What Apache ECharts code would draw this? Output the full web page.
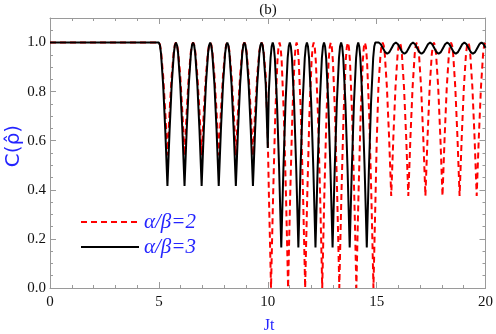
<!DOCTYPE html>
<html><head><meta charset="utf-8">
<script src="https://cdn.jsdelivr.net/npm/echarts@6/dist/echarts.min.js"></script>
<style>html,body{margin:0;padding:0;background:#fff}#c{width:496px;height:334px}</style>
</head><body><div id="c"></div>
<script>
// x ticks / y ticks
const xTicks = [0, 5, 10, 15, 20];
const yTicks = [0.0, 0.2, 0.4, 0.6, 0.8, 1.0];
const seriesNames = ['α/β=2', 'α/β=3'];

// α/β = 2 (red dashed), [Jt, C]
const ratio2_0to10 = [[0,1],[5,1],
[5.049,.991],[5.098,.965],[5.196,.865],[5.295,.716],[5.393,.54],[5.491,.716],[5.589,.865],[5.687,.965],[5.736,.991],
[5.785,1],[5.834,.991],[5.883,.965],[5.981,.865],[6.080,.716],[6.178,.54],[6.276,.716],[6.374,.865],[6.472,.965],[6.521,.991],
[6.571,1],[6.620,.991],[6.669,.965],[6.767,.865],[6.866,.716],[6.964,.54],[7.062,.716],[7.160,.865],[7.258,.965],[7.307,.991],
[7.356,1],[7.405,.991],[7.454,.965],[7.552,.865],[7.651,.716],[7.749,.54],[7.847,.716],[7.945,.865],[8.043,.965],[8.092,.991],
[8.142,1],[8.191,.991],[8.240,.965],[8.338,.865],[8.437,.716],[8.535,.54],[8.633,.716],[8.731,.865],[8.829,.965],[8.878,.991],
[8.927,1],[8.976,.991],[9.025,.965],[9.123,.865],[9.222,.716],[9.320,.54],[9.418,.716],[9.516,.865],[9.614,.965],[9.663,.991],
[9.712,1],[9.761,.991],[9.810,.965],[9.908,.865],[10.0,.62]];
const ratio2_10to15 = [[10.052,.383],[10.101,.195],
[10.150,0],[10.199,.195],[10.248,.383],[10.346,.707],[10.444,.924],[10.493,.981],[10.542,1],[10.591,.981],[10.640,.924],[10.738,.707],[10.836,.383],[10.885,.195],
[10.934,0],[10.983,.195],[11.032,.383],[11.130,.707],[11.228,.924],[11.277,.981],[11.326,1],[11.375,.981],[11.424,.924],[11.522,.707],[11.620,.383],[11.669,.195],
[11.718,0],[11.767,.195],[11.816,.383],[11.914,.707],[12.012,.924],[12.061,.981],[12.110,1],[12.159,.981],[12.208,.924],[12.306,.707],[12.404,.383],[12.453,.195],
[12.502,0],[12.551,.195],[12.600,.383],[12.698,.707],[12.796,.924],[12.845,.981],[12.894,1],[12.943,.981],[12.992,.924],[13.090,.707],[13.188,.383],[13.237,.195],
[13.286,0],[13.335,.195],[13.384,.383],[13.482,.707],[13.580,.924],[13.629,.981],[13.678,1],[13.727,.981],[13.776,.924],[13.874,.707],[13.972,.383],[14.021,.195],
[14.070,0],[14.119,.195],[14.168,.383],[14.266,.707],[14.364,.924],[14.413,.981],[14.462,1],[14.511,.981],[14.560,.924],[14.658,.707],[14.756,.383],[14.805,.195],
[14.854,0],[14.903,.195],[14.952,.383],[15.0,.58]];
const ratio2_15to20 = [[15.081,.817],[15.179,.953],[15.228,.988],
[15.277,1],[15.326,.988],[15.375,.953],[15.473,.817],[15.572,.614],[15.670,.375],[15.768,.614],[15.866,.817],[15.964,.953],[16.013,.988],
[16.062,1],[16.111,.988],[16.160,.953],[16.258,.817],[16.357,.614],[16.455,.375],[16.553,.614],[16.651,.817],[16.749,.953],[16.798,.988],
[16.847,1],[16.896,.988],[16.945,.953],[17.043,.817],[17.142,.614],[17.240,.375],[17.338,.614],[17.436,.817],[17.534,.953],[17.583,.988],
[17.632,1],[17.681,.988],[17.730,.953],[17.828,.817],[17.927,.614],[18.025,.375],[18.123,.614],[18.221,.817],[18.319,.953],[18.368,.988],
[18.417,1],[18.466,.988],[18.515,.953],[18.613,.817],[18.712,.614],[18.810,.375],[18.908,.614],[19.006,.817],[19.104,.953],[19.153,.988],
[19.202,1],[19.251,.988],[19.300,.953],[19.398,.817],[19.497,.614],[19.595,.375],[19.693,.614],[19.791,.817],[19.889,.953],[19.938,.988],
[19.987,1],[20,.999]];

// α/β = 3 (black solid), [Jt, C]
const ratio3_0to10 = [[0,1],[5,1],
[5.049,.989],[5.098,.956],[5.196,.829],[5.295,.640],[5.393,.416],[5.491,.640],[5.589,.829],[5.687,.956],[5.736,.989],
[5.785,1],[5.834,.989],[5.883,.956],[5.981,.829],[6.080,.640],[6.178,.416],[6.276,.640],[6.374,.829],[6.472,.956],[6.521,.989],
[6.571,1],[6.620,.989],[6.669,.956],[6.767,.829],[6.866,.640],[6.964,.416],[7.062,.640],[7.160,.829],[7.258,.956],[7.307,.989],
[7.356,1],[7.405,.989],[7.454,.956],[7.552,.829],[7.651,.640],[7.749,.416],[7.847,.640],[7.945,.829],[8.043,.956],[8.092,.989],
[8.142,1],[8.191,.989],[8.240,.956],[8.338,.829],[8.437,.640],[8.535,.416],[8.633,.640],[8.731,.829],[8.829,.956],[8.878,.989],
[8.927,1],[8.976,.989],[9.025,.956],[9.123,.829],[9.222,.640],[9.320,.416],[9.418,.640],[9.516,.829],[9.614,.956],[9.663,.989],
[9.712,1],[9.761,.989],[9.810,.956],[9.908,.829],[10.0,.57]];
const ratio3_10to15 = [[10.05,.80],[10.13,.937],[10.179,.984],
[10.228,1],[10.277,.984],[10.326,.937],[10.424,.755],[10.523,.485],[10.621,.165],[10.719,.485],[10.817,.755],[10.915,.937],[10.964,.984],
[11.013,1],[11.062,.984],[11.111,.937],[11.209,.755],[11.308,.485],[11.406,.165],[11.504,.485],[11.602,.755],[11.700,.937],[11.749,.984],
[11.799,1],[11.848,.984],[11.897,.937],[11.995,.755],[12.094,.485],[12.192,.165],[12.290,.485],[12.388,.755],[12.486,.937],[12.535,.984],
[12.584,1],[12.633,.984],[12.682,.937],[12.780,.755],[12.879,.485],[12.977,.165],[13.075,.485],[13.173,.755],[13.271,.937],[13.320,.984],
[13.370,1],[13.419,.984],[13.468,.937],[13.566,.755],[13.665,.485],[13.763,.165],[13.861,.485],[13.959,.755],[14.057,.937],[14.106,.984],
[14.155,1],[14.204,.984],[14.253,.937],[14.351,.755],[14.450,.485],[14.548,.165],[14.646,.485],[14.744,.755],[14.842,.937],[14.891,.984],
[14.940,1]];
const ratio3_15to20 = [[15.02,.996],
[15.095,1],[15.193,.993],[15.292,.977],[15.390,.961],[15.488,.954],[15.587,.961],[15.685,.977],[15.784,.993],
[15.882,1],[15.980,.993],[16.079,.977],[16.177,.961],[16.275,.954],[16.374,.961],[16.472,.977],[16.571,.993],
[16.669,1],[16.767,.993],[16.866,.977],[16.964,.961],[17.062,.954],[17.161,.961],[17.259,.977],[17.358,.993],
[17.456,1],[17.554,.993],[17.653,.977],[17.751,.961],[17.849,.954],[17.948,.961],[18.046,.977],[18.145,.993],
[18.243,1],[18.341,.993],[18.440,.977],[18.538,.961],[18.636,.954],[18.735,.961],[18.833,.977],[18.932,.993],
[19.030,1],[19.128,.993],[19.227,.977],[19.325,.961],[19.423,.954],[19.522,.961],[19.620,.977],[19.719,.993],
[19.817,1],[19.915,.993],[20,.979]];

const FRAME = '#9a9a9a';
const BLUE = '#2424ff';
const SERIF = '"Liberation Serif", "DejaVu Serif", serif';

const chart = echarts.init(document.getElementById('c'), null, {renderer: 'canvas'});

function xAx(pos, labels) {
  return {
    type: 'value', position: pos, min: xTicks[0], max: xTicks[xTicks.length - 1], interval: xTicks[1] - xTicks[0],
    axisLine: {show: true, onZero: false, lineStyle: {color: FRAME, width: 1}},
    axisTick: {show: true, inside: true, length: 6, lineStyle: {color: FRAME}},
    minorTick: {show: true, splitNumber: 5, length: 3, lineStyle: {color: FRAME}},
    splitLine: {show: false}, minorSplitLine: {show: false},
    axisLabel: {show: labels, color: '#111', fontFamily: SERIF, fontSize: 15, margin: 7}
  };
}
function yAx(pos, interval, tickLen, labels, line) {
  return {
    type: 'value', position: pos, min: 0, max: 1.1, interval: interval,
    axisLine: {show: line, onZero: false, lineStyle: {color: FRAME, width: 1}},
    axisTick: {show: true, inside: true, length: tickLen, lineStyle: {color: FRAME}},
    splitLine: {show: false},
    axisLabel: {show: labels, color: '#111', fontFamily: SERIF, fontSize: 15, margin: 4,
      formatter: v => (yTicks.some(t => Math.abs(t - v) < 1e-6) ? v.toFixed(1) : '')}
  };
}

chart.setOption({
  animation: false,
  backgroundColor: '#fff',
  grid: {left: 50, right: 8, top: 18, bottom: 46, containLabel: false},
  xAxis: [xAx('bottom', true), xAx('top', false)],
  yAxis: [
    yAx('left', 0.2, 6, true, true),
    yAx('left', 0.05, 3, false, false),
    yAx('right', 0.2, 6, false, true),
    yAx('right', 0.05, 3, false, false)
  ],
  legend: {
    data: seriesNames, orient: 'vertical', left: 75, top: 206,
    itemWidth: 58, itemHeight: 14, itemGap: 3,
    itemStyle: {opacity: 0},
    textStyle: {color: BLUE, fontSize: 21, fontStyle: 'italic', fontFamily: SERIF, lineHeight: 22}
  },
  graphic: [
    {type: 'text', style: {text: '(b)', x: 268, y: 10, align: 'center', verticalAlign: 'middle', font: '15px ' + SERIF, fill: '#111'}},
    {type: 'text', style: {text: 'Jt', x: 269, y: 326, align: 'center', verticalAlign: 'middle', font: '16px ' + SERIF, fill: BLUE}},
    {type: 'text', x: 14, y: 146, rotation: Math.PI / 2,
     style: {text: 'C(ρ̂)', x: 0, y: 0, align: 'center', verticalAlign: 'middle', font: '20px "DejaVu Sans", "Liberation Sans", sans-serif', fill: BLUE}}
  ],
  series: [
    {name: seriesNames[0], type: 'line', xAxisIndex: 0, yAxisIndex: 0, showSymbol: false, symbol: 'none', clip: false,
     data: ratio2_0to10.concat(ratio2_10to15, ratio2_15to20),
     lineStyle: {color: '#ff0000', width: 2, type: [6, 4]}, itemStyle: {color: '#ff0000'}},
    {name: seriesNames[1], type: 'line', xAxisIndex: 0, yAxisIndex: 0, showSymbol: false, symbol: 'none', clip: false,
     data: ratio3_0to10.concat(ratio3_10to15, ratio3_15to20),
     lineStyle: {color: '#000', width: 2}, itemStyle: {color: '#000'}}
  ]
});
</script></body></html>
